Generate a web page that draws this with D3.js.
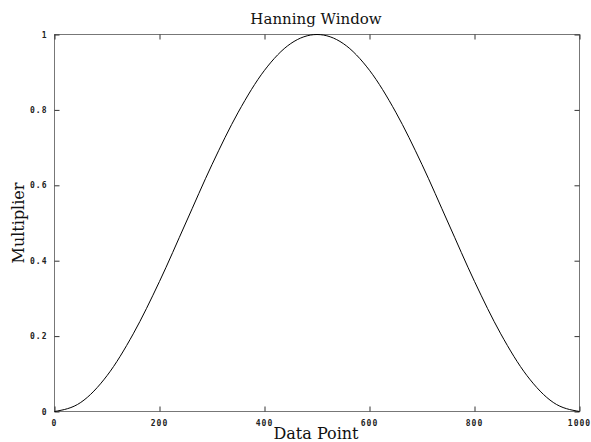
<!DOCTYPE html>
<html>
<head>
<meta charset="utf-8">
<script src="https://cdn.jsdelivr.net/npm/d3@7"></script>
<style>
  body { margin: 0; background: #fff; }
  .tick-label { font-family: "DejaVu Sans Mono", monospace; font-size: 8px; font-weight: bold; fill: #222; letter-spacing: 1px; }
  .title { font-family: "DejaVu Serif", serif; font-size: 15px; fill: #111; }
</style>
</head>
<body>
<div id="chart"></div>
<script>
// values
var dataPoint = [0, 50, 100, 150, 200, 250, 300, 350, 400, 450, 500,
                 550, 600, 650, 700, 750, 800, 850, 900, 950, 1000];
var multiplier = [0, 0.024, 0.095, 0.206, 0.345, 0.5, 0.655, 0.794, 0.905, 0.976, 1,
                  0.976, 0.905, 0.794, 0.655, 0.5, 0.345, 0.206, 0.095, 0.024, 0];
var xTicks = [0, 200, 400, 600, 800, 1000];
var yTicks = [0, 0.2, 0.4, 0.6, 0.8, 1];

var w = 591, h = 442;
var plotLeft = 54.5, plotRight = 579.5, plotTop = 34.5, plotBottom = 411.5;

var svg = d3.select("#chart").append("svg")
  .attr("width", w).attr("height", h);

var xScale = d3.scaleLinear().domain([0, 1000]).range([plotLeft, plotRight]);
var yScale = d3.scaleLinear().domain([0, 1]).range([plotBottom, plotTop]);

//frame
svg.append("rect")
  .attr("x", plotLeft).attr("y", plotTop)
  .attr("width", plotRight - plotLeft).attr("height", plotBottom - plotTop)
  .attr("fill", "none").attr("stroke", "#777").attr("stroke-width", 1);

//ticks inside, all four sides
var tickLen = 5;
function drawAxis(axis, transform) {
  var g = svg.append("g").attr("transform", transform).call(axis);
  g.select(".domain").remove();
  g.selectAll(".tick line").attr("stroke", "#333");
  g.selectAll("text").remove();
  return g;
}
drawAxis(d3.axisBottom(xScale).tickValues(xTicks).tickSize(-tickLen), "translate(0," + plotBottom + ")");
drawAxis(d3.axisTop(xScale).tickValues(xTicks).tickSize(-tickLen), "translate(0," + plotTop + ")");
drawAxis(d3.axisLeft(yScale).tickValues(yTicks).tickSize(-tickLen), "translate(" + plotLeft + ",0)");
drawAxis(d3.axisRight(yScale).tickValues(yTicks).tickSize(-tickLen), "translate(" + plotRight + ",0)");

//tick labels
svg.selectAll(".xlab").data(xTicks).enter().append("text")
  .attr("class", "tick-label")
  .attr("x", function(d) { return xScale(d); })
  .attr("y", plotBottom + 14)
  .attr("text-anchor", "middle")
  .text(function(d) { return d; });

svg.selectAll(".ylab").data(yTicks).enter().append("text")
  .attr("class", "tick-label")
  .attr("x", plotLeft - 7)
  .attr("y", function(d) { return yScale(d) + 3; })
  .attr("text-anchor", "end")
  .text(function(d) { return d; });

//curve
var line = d3.line()
  .x(function(d, i) { return xScale(dataPoint[i]); })
  .y(function(d) { return yScale(d); })
  .curve(d3.curveMonotoneX);

svg.append("path")
  .datum(multiplier)
  .attr("d", line)
  .attr("fill", "none")
  .attr("stroke", "#000")
  .attr("stroke-width", 1);

//titles
svg.append("text").attr("class", "title")
  .attr("x", 316).attr("y", 24)
  .attr("text-anchor", "middle")
  .text("Hanning Window");

svg.append("text").attr("class", "title")
  .attr("x", 316).attr("y", 439)
  .attr("text-anchor", "middle")
  .style("font-size", "16px")
  .text("Data Point");

svg.append("text").attr("class", "title")
  .attr("transform", "translate(24," + ((plotTop + plotBottom) / 2) + ") rotate(-90)")
  .attr("text-anchor", "middle")
  .style("font-size", "16px")
  .text("Multiplier");
</script>
</body>
</html>
